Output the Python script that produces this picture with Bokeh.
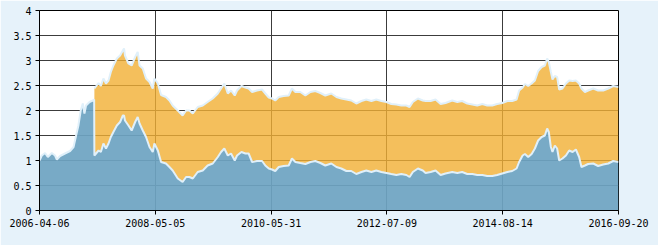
from bokeh.plotting import figure
from bokeh.models import ColumnDataSource, FixedTicker, Range1d
from bokeh.embed import file_html
from bokeh.resources import INLINE

# trading-day index (0 = 2006-04-06, 2500 = 2016-09-20)
day = [0, 10, 24, 36, 53, 67, 75, 89, 110, 132, 147, 158, 168, 178, 187, 194, 201, 216, 230, 236,
       237, 255, 265, 276, 287, 298, 308, 319, 334, 348, 360, 365, 369, 384, 398, 413, 424, 432, 446,
       460, 475, 489, 496, 511, 525, 546, 561, 575, 597, 618, 633, 647, 662, 683, 705, 726, 748, 770,
       784, 798, 813, 827, 843, 853, 872, 889, 903, 918, 939, 961, 975, 990, 1004, 1018, 1033, 1054,
       1076, 1090, 1105, 1126, 1148, 1170, 1191, 1213, 1234, 1260, 1282, 1303, 1325, 1346, 1368, 1390,
       1411, 1433, 1454, 1476, 1498, 1519, 1541, 1562, 1584, 1598, 1612, 1634, 1655, 1667, 1689, 1710,
       1732, 1753, 1782, 1804, 1825, 1847, 1869, 1890, 1912, 1933, 1955, 1976, 1998, 2020, 2041, 2060,
       2071, 2086, 2096, 2110, 2125, 2139, 2153, 2168, 2182, 2192, 2199, 2208, 2215, 2225, 2235, 2244,
       2258, 2273, 2287, 2302, 2316, 2330, 2340, 2355, 2369, 2391, 2412, 2434, 2456, 2477, 2500]

# lower series (blue)
nav_unit = [1.00, 1.10, 1.15, 1.07, 1.15, 1.10, 1.02, 1.09, 1.14, 1.19, 1.27, 1.50, 1.70, 2.00, 2.14,
            1.94, 2.10, 2.17, 2.20, 2.22,
            1.10, 1.20, 1.17, 1.34, 1.24, 1.34, 1.47, 1.57, 1.70, 1.77, 1.90, 1.90, 1.80, 1.70, 1.60,
            1.77, 1.87, 1.74, 1.60, 1.47, 1.27, 1.17, 1.34, 1.20, 0.97, 0.94, 0.87, 0.80, 0.64, 0.57,
            0.67, 0.67, 0.64, 0.77, 0.80, 0.90, 0.94, 1.07, 1.17, 1.24, 1.10, 1.14, 1.00, 1.10, 1.17,
            1.14, 1.14, 0.97, 0.99, 0.99, 0.90, 0.84, 0.82, 0.79, 0.87, 0.89, 0.90, 1.04, 0.97, 0.95,
            0.93, 0.97, 0.99, 0.95, 0.90, 0.94, 0.87, 0.84, 0.79, 0.79, 0.73, 0.77, 0.80, 0.77, 0.80,
            0.77, 0.75, 0.73, 0.71, 0.73, 0.71, 0.67, 0.77, 0.84, 0.80, 0.75, 0.77, 0.80, 0.71, 0.74,
            0.77, 0.75, 0.77, 0.73, 0.73, 0.71, 0.71, 0.69, 0.69, 0.71, 0.74, 0.77, 0.79, 0.84, 0.97,
            1.10, 1.13, 1.07, 1.13, 1.24, 1.40, 1.47, 1.50, 1.64, 1.57, 1.27, 1.17, 1.30, 1.24, 1.00,
            1.04, 1.10, 1.20, 1.17, 1.22, 1.07, 0.87, 0.90, 0.93, 0.94, 0.89, 0.92, 0.94, 0.99, 0.97]

# upper series (orange top), starts at day index 237
upper_start = 20
nav_total = [2.44, 2.55, 2.49, 2.64, 2.54, 2.60, 2.77, 2.90, 3.04, 3.10, 3.20, 3.24, 3.10, 2.94, 2.90,
             3.07, 3.17, 2.90, 2.84, 2.64, 2.57, 2.44, 2.64, 2.54, 2.31, 2.27, 2.20, 2.10, 2.00, 1.90,
             2.00, 2.00, 1.94, 2.07, 2.10, 2.17, 2.24, 2.34, 2.44, 2.54, 2.34, 2.40, 2.30, 2.40, 2.49,
             2.46, 2.44, 2.37, 2.40, 2.42, 2.34, 2.26, 2.24, 2.20, 2.27, 2.29, 2.30, 2.44, 2.37, 2.37,
             2.30, 2.37, 2.39, 2.35, 2.30, 2.34, 2.27, 2.24, 2.22, 2.20, 2.14, 2.19, 2.22, 2.19, 2.22,
             2.19, 2.17, 2.13, 2.12, 2.10, 2.10, 2.07, 2.17, 2.24, 2.20, 2.19, 2.19, 2.22, 2.13, 2.15,
             2.20, 2.17, 2.19, 2.14, 2.12, 2.10, 2.13, 2.10, 2.10, 2.13, 2.15, 2.19, 2.19, 2.22, 2.40,
             2.46, 2.53, 2.49, 2.54, 2.60, 2.79, 2.87, 2.90, 3.04, 2.97, 2.77, 2.62, 2.69, 2.67, 2.42,
             2.44, 2.54, 2.60, 2.59, 2.60, 2.54, 2.44, 2.37, 2.40, 2.44, 2.40, 2.40, 2.44, 2.49, 2.47]

x_ticks = [0, 500, 1000, 1500, 2000, 2500]
x_labels = ["2006-04-06", "2008-05-05", "2010-05-31", "2012-07-09", "2014-08-14", "2016-09-20"]
y_ticks = [0, 0.5, 1, 1.5, 2, 2.5, 3, 3.5, 4]
y_labels = ["0", "0.5", "1", "1.5", "2", "2.5", "3", "3.5", "4"]

blue_src = ColumnDataSource(dict(x=day, y=nav_unit))
orange_src = ColumnDataSource(dict(x=day[upper_start:], lo=nav_unit[upper_start:], hi=nav_total))

p = figure(width=658, height=245, output_backend="svg", toolbar_location=None,
           x_range=Range1d(0, 2500), y_range=Range1d(0, 4),
           min_border_left=39, min_border_right=40, min_border_top=10, min_border_bottom=35)
p.border_fill_color = "#e6f2fa"
p.background_fill_color = "white"
p.outline_line_color = "black"
p.outline_line_alpha = 1
p.outline_line_width = 1

p.varea(x="x", y1="lo", y2="hi", source=orange_src, fill_color="#f1af33", fill_alpha=0.8)
p.varea(x="x", y1=0, y2="y", source=blue_src, fill_color="#6ea4c2", fill_alpha=0.93)
p.line(x="x", y="hi", source=orange_src, line_color="#e0f0fa", line_width=2)
p.line(x="x", y="y", source=blue_src, line_color="#e0f0fa", line_width=2)

for ax in (p.xaxis[0], p.yaxis[0]):
    ax.axis_line_color = "black"
    ax.major_tick_line_color = "black"
    ax.minor_tick_line_color = None
    ax.major_tick_in = 0
    ax.major_tick_out = 4
    ax.major_label_text_font = "DejaVu Sans Mono"
    ax.major_label_text_font_size = "10px"
    ax.major_label_text_color = "black"
    ax.major_label_standoff = 4

p.xaxis[0].ticker = FixedTicker(ticks=x_ticks)
p.xaxis[0].major_label_overrides = {t: l for t, l in zip(x_ticks, x_labels)}
p.yaxis[0].ticker = FixedTicker(ticks=y_ticks)
p.yaxis[0].major_label_overrides = {t: l for t, l in zip(y_ticks, y_labels)}

p.xgrid[0].grid_line_color = "#3c3c3c"
p.ygrid[0].grid_line_color = "#3c3c3c"
p.xgrid[0].grid_line_width = 1
p.ygrid[0].grid_line_width = 1

open("out.html", "w").write(file_html(p, INLINE))
